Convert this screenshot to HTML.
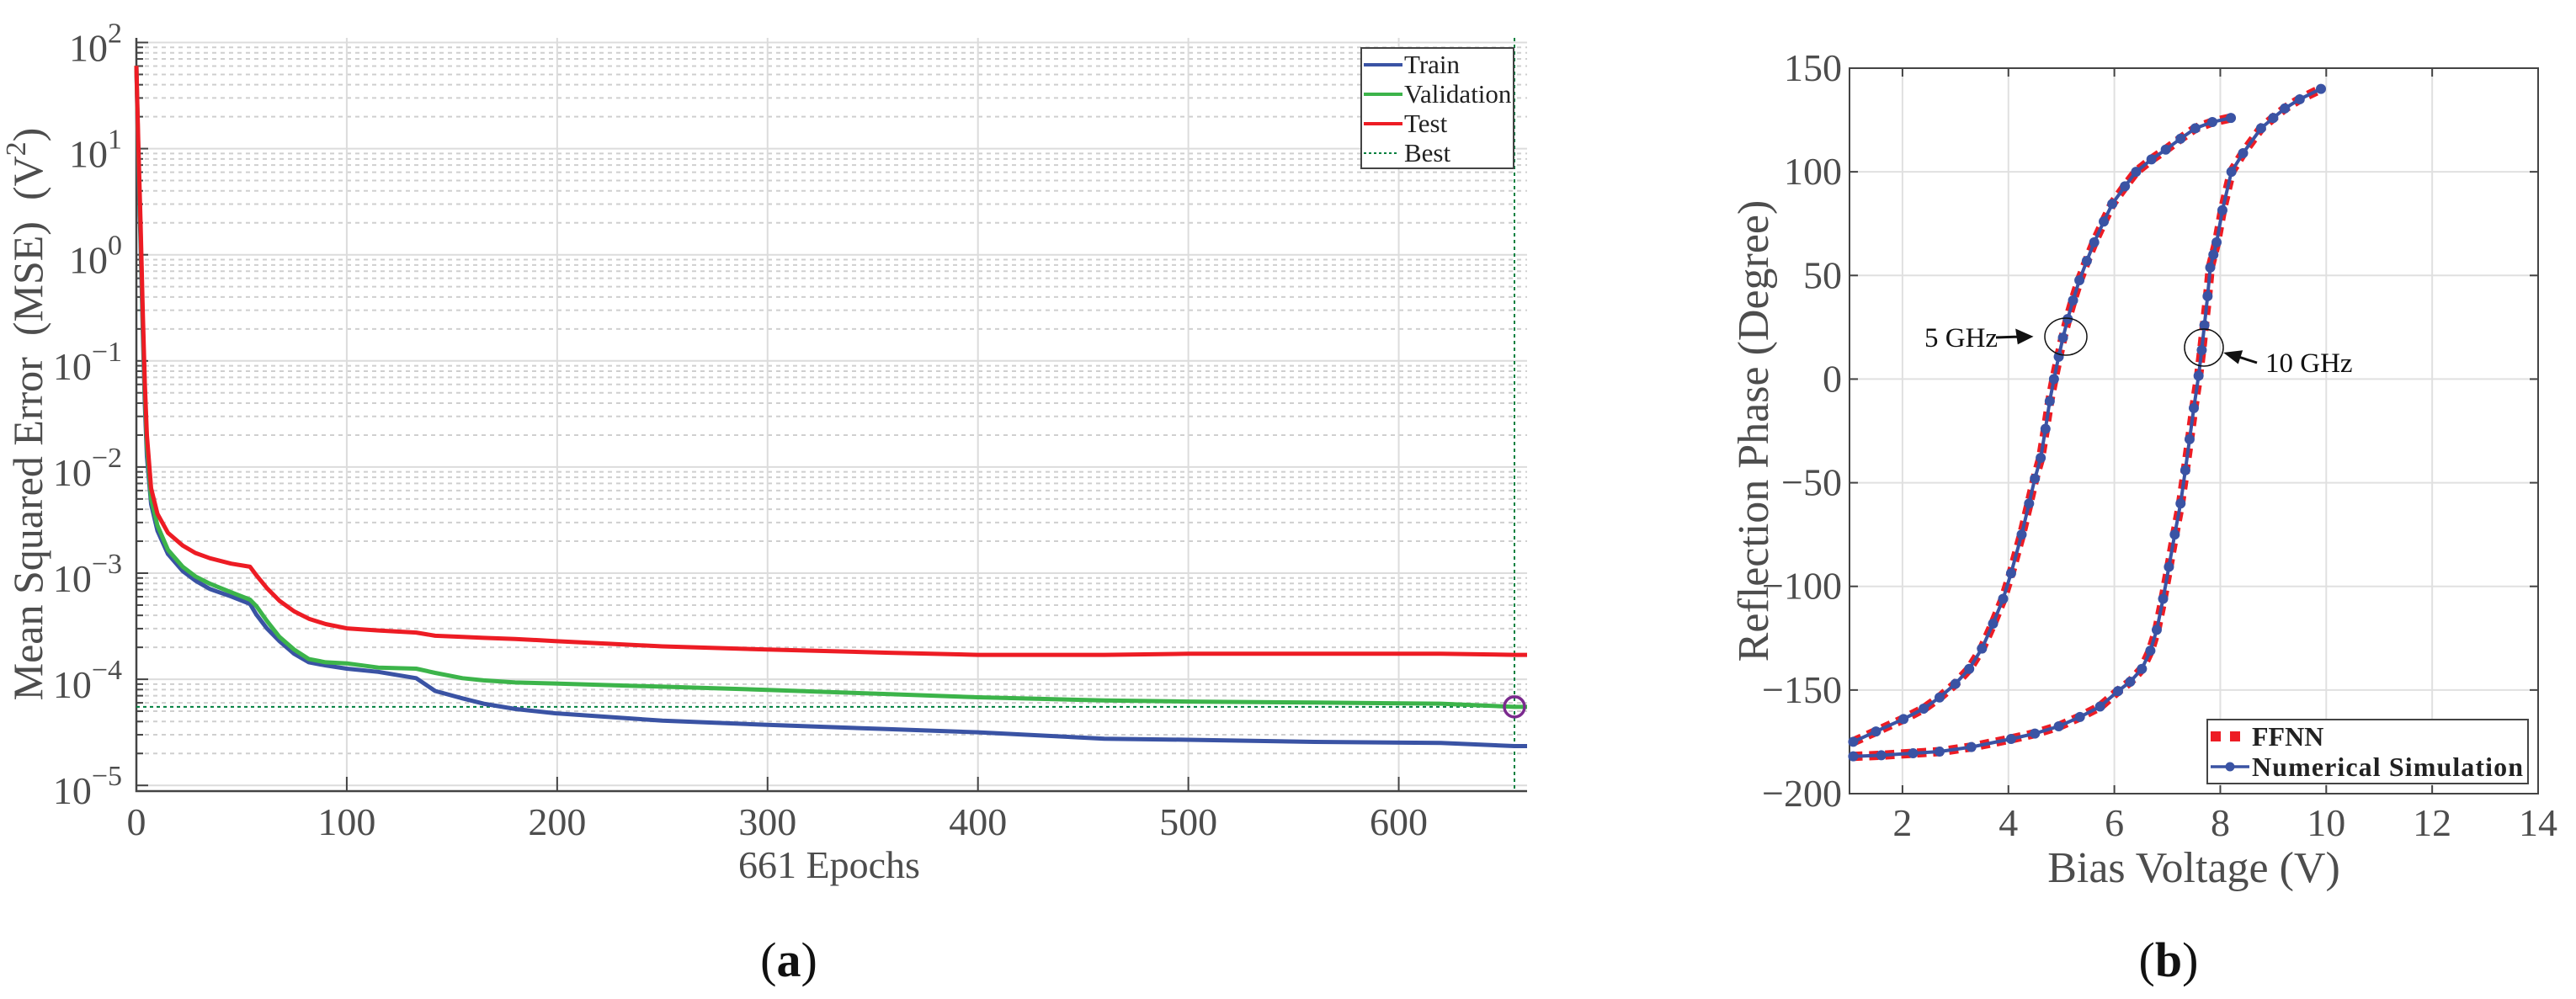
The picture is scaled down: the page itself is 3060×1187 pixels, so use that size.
<!DOCTYPE html>
<html><head><meta charset="utf-8"><style>
html,body{margin:0;padding:0;background:#fff;}
svg{display:block;font-family:"Liberation Serif",serif;}
</style></head><body>
<svg id="fig" width="3060" height="1187" viewBox="0 0 3060 1187" xmlns="http://www.w3.org/2000/svg">
<rect width="3060" height="1187" fill="#fff"/>
<g id="left"></g>
<g id="right"></g>
<text x="937" y="1160" font-size="58" text-anchor="middle" fill="#111">(<tspan font-weight="bold">a</tspan>)</text>
<text x="2576" y="1160" font-size="58" text-anchor="middle" fill="#111">(<tspan font-weight="bold">b</tspan>)</text>
</svg>
<script>
// ---------- Left chart data ----------
const epochs = [0,1,2,3,4,5,7,10,15,22,28,35,45,54,57,62,68,75,82,90,100,115,133,142,155,165,180,199,250,300,358,400,460,500,560,620,655,661];
const trainLog = [1.78,0.8,0.1,-0.7,-1.4,-1.9,-2.35,-2.6,-2.82,-2.98,-3.07,-3.15,-3.22,-3.29,-3.39,-3.52,-3.64,-3.76,-3.84,-3.87,-3.90,-3.93,-3.99,-4.11,-4.18,-4.23,-4.28,-4.32,-4.39,-4.43,-4.47,-4.50,-4.56,-4.57,-4.59,-4.60,-4.63,-4.63];
const valLog = [1.78,0.9,0.2,-0.6,-1.3,-1.8,-2.3,-2.55,-2.78,-2.94,-3.03,-3.10,-3.18,-3.25,-3.31,-3.45,-3.60,-3.72,-3.81,-3.84,-3.85,-3.89,-3.90,-3.94,-3.99,-4.01,-4.03,-4.04,-4.07,-4.10,-4.14,-4.17,-4.20,-4.21,-4.22,-4.23,-4.26,-4.26];
const testLog = [1.78,1.0,0.3,-0.5,-1.2,-1.7,-2.2,-2.44,-2.62,-2.74,-2.81,-2.86,-2.91,-2.94,-3.02,-3.14,-3.26,-3.36,-3.43,-3.48,-3.52,-3.54,-3.56,-3.59,-3.60,-3.61,-3.62,-3.64,-3.69,-3.72,-3.75,-3.77,-3.77,-3.76,-3.76,-3.76,-3.77,-3.77];
const bestEpoch = 655;
const bestLog = -4.26;
const xTicksL = [0,100,200,300,400,500,600];
const yDecades = [2,1,0,-1,-2,-3,-4,-5];
const yExpLabels = ["2","1","0","\u22121","\u22122","\u22123","\u22124","\u22125"];

// ---------- Right chart data ----------
const v5 = [1.07,1.5,2.02,2.4,2.7,3.0,3.26,3.5,3.71,3.9,4.05,4.25,4.39,4.5,4.61,4.7,4.78,4.86,4.95,5.03,5.12,5.22,5.34,5.48,5.62,5.8,5.96,6.2,6.41,6.7,6.97,7.25,7.53,7.85,8.2];
const p5 = [-175,-170,-164,-159,-153.6,-147,-139.8,-130,-118,-106,-93.7,-75,-60,-48,-38,-24,-10.7,0,10.8,20,29,38,47.7,57,66,76,84.5,93,100,106,110.7,116,121,124,126];
const v10 = [1.07,1.6,2.2,2.7,3.3,4.05,4.5,4.95,5.35,5.73,6.07,6.3,6.52,6.68,6.8,6.92,7.03,7.14,7.25,7.34,7.42,7.5,7.59,7.65,7.7,7.76,7.81,7.87,7.93,8.04,8.21,8.43,8.77,9.0,9.22,9.5,9.9];
const p10 = [-182,-181.5,-180.5,-179.7,-177.5,-173.6,-171,-167.5,-163,-158,-150.5,-146,-139.8,-131,-121,-106,-90.6,-75,-60,-44,-29,-14,1.6,14,26,40,53.8,60,66,81.5,100,109,121,126,130.6,135,140];
const xTicksR = [2,4,6,8,10,12,14];
const yTicksR = [150,100,50,0,-50,-100,-150,-200];

const NS = "http://www.w3.org/2000/svg";
function mk(tag, attrs, parent){ const e=document.createElementNS(NS,tag); for(const k in attrs) e.setAttribute(k,attrs[k]); parent.appendChild(e); return e; }

// ===== Left chart =====
const L = document.getElementById('left');
const lx0=162, lx1=1814, ly0=45, ly1=940;
const lxs = e => lx0 + e*(lx1-lx0)/661;
const lys = lg => 50.5 + (2-lg)*126.1;
// minor grid
yDecades.forEach(d=>{
  if(d===-5) return;
  for(let m=2;m<=9;m++){
    const y=lys(d-1+Math.log10(m));
    if(y<ly0||y>ly1) continue;
    const g=mk('line',{x1:lx0,x2:lx1,y1:y,y2:y,stroke:'#cfcfcf','stroke-width':2,'stroke-dasharray':'5 5'},L);
    
    
    const t=mk('line',{x1:lx0,x2:lx0+8,y1:y,y2:y,stroke:'#444','stroke-width':2},L);
    
    
  }
});
yDecades.forEach((d,i)=>{
  const y=lys(d);
  const g=mk('line',{x1:lx0,x2:lx1,y1:y,y2:y,stroke:'#dcdcdc','stroke-width':2},L);
  
  
  const t=mk('line',{x1:lx0,x2:lx0+14,y1:y,y2:y,stroke:'#444','stroke-width':2},L);
  
  
  const tx=mk('text',{x:145,y:y+22,'font-size':46,'text-anchor':'end',fill:'#4d4d4d'},L);
  
  
  tx.appendChild(document.createTextNode('10'));
  const sp=mk('tspan',{dy:-22,'font-size':34},tx);
  sp.textContent=yExpLabels[i];
});
xTicksL.forEach(v=>{
  const x=lxs(v);
  if(v>0){
    const g=mk('line',{x1:x,x2:x,y1:ly0,y2:ly1,stroke:'#dcdcdc','stroke-width':2},L);
    
    
    const t=mk('line',{x1:x,x2:x,y1:ly1-17,y2:ly1,stroke:'#444','stroke-width':2},L);
    
    
  }
  const tx=mk('text',{x:x,y:992,'font-size':46,'text-anchor':'middle',fill:'#4d4d4d'},L);
  
  
  tx.textContent=v;
});
// axes
const axl=mk('path',{d:`M${lx0},${ly0} V${ly1} H${lx1}`,fill:'none',stroke:'#444','stroke-width':2.5},L);


// best lines
const bv=mk('line',{x1:lxs(bestEpoch),x2:lxs(bestEpoch),y1:ly0,y2:ly1,stroke:'#00803f','stroke-width':2,'stroke-dasharray':'4 4'},L);


const bh=mk('line',{x1:lx0,x2:lx1,y1:lys(bestLog),y2:lys(bestLog),stroke:'#00803f','stroke-width':2,'stroke-dasharray':'4 4'},L);


function series(arr,color,name){
  const d=arr.map((v,i)=>(i?'L':'M')+lxs(epochs[i]).toFixed(1)+','+lys(v).toFixed(1)).join(' ');
  const p=mk('path',{d:d,fill:'none',stroke:color,'stroke-width':5,'stroke-linejoin':'round'},L);
  
  
}
series(trainLog,'#3a53a4','train-line');
series(valLog,'#3cb44a','validation-line');
series(testLog,'#ed1c24','test-line');
const bc=mk('circle',{cx:lxs(bestEpoch),cy:lys(bestLog),r:12,fill:'none',stroke:'#7b2a8e','stroke-width':3.5},L);


// labels
const ylab=mk('text',{x:0,y:0,'font-size':50,'text-anchor':'middle',fill:'#4d4d4d',transform:'translate(50,492) rotate(-90)'},L);


ylab.innerHTML='Mean Squared Error\u00a0\u00a0(MSE)\u00a0\u00a0(V<tspan dy="-20" font-size="34">2</tspan><tspan dy="20">)</tspan>';
const xlab=mk('text',{x:985,y:1043,'font-size':46,'text-anchor':'middle',fill:'#4d4d4d'},L);


xlab.textContent='661 Epochs';
// legend
const lg=mk('g',{},L);


const lb=mk('rect',{x:1617,y:57,width:181,height:143,fill:'#fff',stroke:'#444','stroke-width':2},lg);


const legL=[['Train','#3a53a4',0],['Validation','#3cb44a',0],['Test','#ed1c24',0],['Best','#00803f',1]];
legL.forEach((e,i)=>{
  const y=77+i*35;
  const ln=mk('line',{x1:1620,x2:e[2]?1662:1666,y1:y,y2:y,stroke:e[1],'stroke-width':e[2]?2:4,'stroke-dasharray':e[2]?'3 3':'none'},lg);
  
  
  const t=mk('text',{x:1668,y:y+10,'font-size':31,fill:'#222'},lg);
  
  
  t.textContent=e[0];
});

// ===== Right chart =====
const R=document.getElementById('right');
const rx0=2197, rx1=3015, ry0=81, ry1=943;
const rxs=v=>rx0+(v-1)*(rx1-rx0)/13;
const rys=v=>ry0+(150-v)*(ry1-ry0)/350;
xTicksR.forEach(v=>{
  const x=rxs(v);
  if(v<14){
    const g=mk('line',{x1:x,x2:x,y1:ry0,y2:ry1,stroke:'#e0e0e0','stroke-width':2},R);
    
    
    const t1=mk('line',{x1:x,x2:x,y1:ry1-10,y2:ry1,stroke:'#444','stroke-width':2},R);
    
    
    const t2=mk('line',{x1:x,x2:x,y1:ry0,y2:ry0+10,stroke:'#444','stroke-width':2},R);
    
    
  }
  const tx=mk('text',{x:x,y:993,'font-size':46,'text-anchor':'middle',fill:'#4d4d4d'},R);
  
  
  tx.textContent=v;
});
yTicksR.forEach(v=>{
  const y=rys(v);
  const g=mk('line',{x1:rx0,x2:rx1,y1:y,y2:y,stroke:'#e0e0e0','stroke-width':2},R);
  
  
  const t1=mk('line',{x1:rx0,x2:rx0+10,y1:y,y2:y,stroke:'#444','stroke-width':2},R);
  
  
  const t2=mk('line',{x1:rx1-10,x2:rx1,y1:y,y2:y,stroke:'#444','stroke-width':2},R);
  
  
  const tx=mk('text',{x:2188,y:y+15,'font-size':46,'text-anchor':'end',fill:'#4d4d4d'},R);
  
  
  tx.textContent=(v<0?'\u2212':'')+Math.abs(v);
});
const fr=mk('rect',{x:rx0,y:ry0,width:rx1-rx0,height:ry1-ry0,fill:'none',stroke:'#444','stroke-width':2},R);


function pathOf(xs,ys){return xs.map((v,i)=>(i?'L':'M')+rxs(v).toFixed(1)+','+rys(ys[i]).toFixed(1)).join(' ');}
[[v5,p5,'5ghz'],[v10,p10,'10ghz']].forEach(s=>{
  const f=mk('path',{d:pathOf(s[0],s[1]),fill:'none',stroke:'#ed1c24','stroke-width':11,'stroke-dasharray':'11 8'},R);
  
  
});
[[v5,p5,'5ghz'],[v10,p10,'10ghz']].forEach(s=>{
  const n=mk('path',{d:pathOf(s[0],s[1]),fill:'none',stroke:'#3a53a4','stroke-width':4},R);
  
  
  s[0].forEach((v,i)=>{
    const c=mk('circle',{cx:rxs(v),cy:rys(s[1][i]),r:6,fill:'#3a53a4'},R);
    
    
  });
});
// annotations
const e1=mk('ellipse',{cx:2454,cy:400,rx:25,ry:22,fill:'none',stroke:'#111','stroke-width':1.5},R);


const e2=mk('ellipse',{cx:2618,cy:413,rx:23,ry:22,fill:'none',stroke:'#111','stroke-width':1.5},R);


const a1=mk('path',{d:'M2371,401 L2400,400 M2412,400 L2396,393 L2398,407 Z',stroke:'#111','stroke-width':3,fill:'#111'},R);


const a2=mk('path',{d:'M2681,431 L2656,423 M2645,420 L2662,418 L2658,430 Z',stroke:'#111','stroke-width':3,fill:'#111'},R);


const t5=mk('text',{x:2286,y:412,'font-size':33,fill:'#111'},R);


t5.textContent='5 GHz';
const t10=mk('text',{x:2691,y:442,'font-size':33,fill:'#111'},R);


t10.textContent='10 GHz';
// axis titles
const ry=mk('text',{x:0,y:0,'font-size':52,'text-anchor':'middle',fill:'#4d4d4d',transform:'translate(2100,512) rotate(-90)'},R);


ry.textContent='Reflection Phase (Degree)';
const rxl=mk('text',{x:2606,y:1048,'font-size':52,'text-anchor':'middle',fill:'#4d4d4d'},R);


rxl.textContent='Bias Voltage (V)';
// legend
const rg=mk('g',{},R);


const rb=mk('rect',{x:2622,y:855,width:381,height:76,fill:'#fff',stroke:'#444','stroke-width':2},rg);


const rs1=mk('line',{x1:2626,x2:2662,y1:875,y2:875,stroke:'#ed1c24','stroke-width':12,'stroke-dasharray':'12 11'},rg);


const rl1=mk('text',{x:2675,y:886,'font-size':32,'font-weight':'bold',fill:'#222'},rg);


rl1.textContent='FFNN';
const rs2=mk('line',{x1:2626,x2:2672,y1:911,y2:911,stroke:'#3a53a4','stroke-width':3.5},rg);


const rc2=mk('circle',{cx:2649,cy:911,r:5.5,fill:'#3a53a4'},rg);


const rl2=mk('text',{x:2675,y:922,'font-size':32,'font-weight':'bold',fill:'#222',textLength:322},rg);


rl2.textContent='Numerical Simulation';
</script>
</body></html>
